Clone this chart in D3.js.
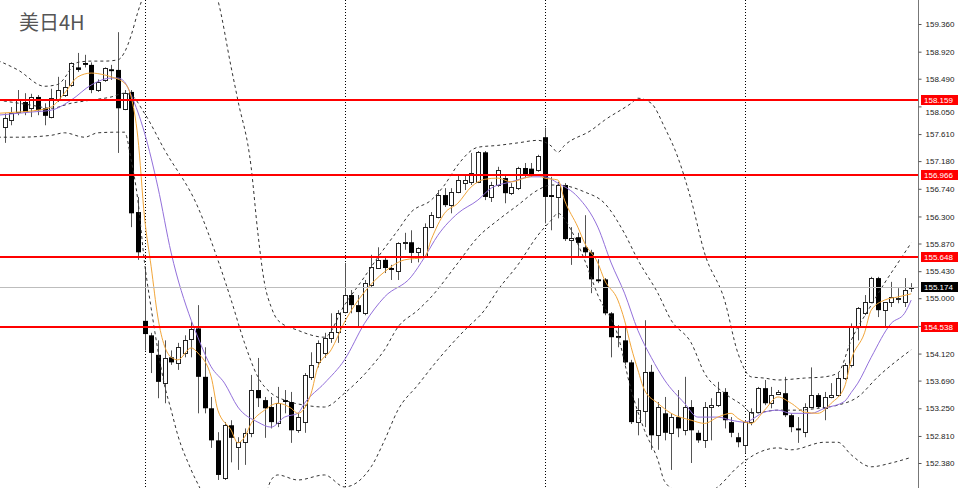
<!DOCTYPE html>
<html><head><meta charset="utf-8">
<script src="https://cdn.jsdelivr.net/npm/d3@7"></script>
<style>html,body{margin:0;padding:0;background:#fff;}svg{display:block}</style>
</head><body>
<svg id="c" width="960" height="488"></svg>
<script>
const title = "美日4H";
const opens = [157.72,157.83,157.96,158.12,158.02,158.20,158.02,157.88,158.15,158.23,158.39,158.67,158.74,158.71,158.31,158.47,158.64,158.63,158.01,158.28,156.37,154.64,154.41,154.10,153.65,154.06,153.97,154.13,154.35,154.52,153.75,153.25,152.74,152.14,152.98,152.63,152.71,152.86,153.54,153.38,153.27,153.01,153.38,153.35,152.90,153.03,153.75,153.98,154.13,154.37,154.45,154.78,155.05,154.89,154.76,155.21,155.49,155.61,155.48,155.43,155.88,155.89,155.73,155.65,156.13,156.29,156.64,156.48,156.69,156.83,156.85,156.85,157.32,156.61,156.80,156.91,156.67,156.75,157.07,157.06,157.04,157.56,156.64,156.61,156.80,155.93,155.97,155.81,155.73,155.30,155.30,154.76,154.40,154.33,153.98,153.03,153.21,153.83,152.82,153.17,152.86,153.11,152.90,153.27,152.86,152.74,153.27,153.30,153.51,153.03,152.79,152.66,153.03,153.19,153.57,153.33,153.48,153.49,153.14,152.93,152.87,153.27,153.46,153.25,153.43,153.46,153.73,153.94,154.54,154.76,154.94,155.32,154.81,154.94,154.99,154.94,155.16];
const highs = [157.94,158.04,158.31,158.26,158.25,158.23,158.10,158.33,158.52,158.47,158.75,158.90,158.87,158.75,158.48,158.67,158.71,159.23,158.31,158.31,156.61,155.49,154.45,154.33,154.33,154.17,154.29,154.41,154.62,154.89,154.22,153.43,152.87,153.03,153.06,152.79,152.93,153.78,154.05,153.43,153.43,153.59,153.54,153.51,153.17,153.81,154.14,154.33,154.45,154.76,154.81,155.56,155.13,155.05,155.29,155.69,155.81,155.64,155.53,155.89,156.04,156.08,155.81,156.19,156.37,156.72,156.75,156.75,156.96,156.96,157.31,157.34,157.34,156.85,157.09,156.96,156.83,157.09,157.15,157.15,157.28,157.71,156.93,156.85,156.83,156.13,156.04,156.32,155.77,155.62,155.32,154.78,154.57,154.54,154.02,153.41,154.65,153.94,153.35,153.43,153.17,153.54,153.75,153.38,152.90,153.35,153.41,153.67,153.57,153.11,152.86,153.06,153.25,153.59,153.70,153.59,153.54,153.75,153.17,153.11,153.33,153.90,153.49,153.51,153.65,153.81,153.97,154.60,154.86,155.05,155.34,155.34,154.94,155.26,155.16,155.32,155.24];
const lows = [157.47,157.75,157.91,157.91,157.88,157.91,157.75,157.86,158.12,158.20,158.36,158.60,158.67,158.26,158.28,158.44,158.47,157.31,157.99,156.13,155.61,154.17,153.81,153.41,153.33,153.94,153.86,154.06,154.06,153.17,153.17,152.62,152.11,152.11,152.39,152.27,152.35,152.79,153.27,152.78,152.93,152.95,153.17,152.70,152.86,152.86,153.70,153.90,154.05,154.29,154.29,154.76,154.76,154.54,154.73,155.18,155.48,155.40,155.29,155.29,155.77,155.56,155.57,155.64,156.12,156.27,156.45,156.35,156.67,156.72,156.80,156.83,156.56,156.53,156.77,156.51,156.64,156.72,156.91,156.93,157.01,156.19,156.08,156.27,155.91,155.53,155.65,155.65,155.08,155.24,154.73,154.06,154.22,153.94,153.00,152.82,152.95,152.59,152.59,152.74,152.27,152.79,152.82,152.38,152.70,152.62,152.74,153.27,152.93,152.79,152.63,152.54,152.98,153.17,153.30,153.25,153.46,153.11,152.87,152.70,152.79,153.25,153.25,153.06,153.41,153.43,153.70,153.90,154.33,154.73,154.92,154.70,154.54,154.86,154.92,154.86,155.10];
const closes = [157.86,157.94,158.15,157.96,158.20,157.99,157.90,158.18,158.31,158.36,158.74,158.63,158.71,158.31,158.44,158.66,158.61,158.02,158.26,156.35,155.73,154.43,154.13,153.67,154.05,153.98,154.22,154.33,154.51,153.75,153.25,152.74,152.19,152.98,152.78,152.71,152.86,153.54,153.41,153.25,153.03,153.33,153.35,152.90,153.11,153.78,153.94,154.29,154.37,154.46,154.76,155.05,154.89,154.78,155.24,155.49,155.61,155.48,155.45,155.88,155.89,155.72,155.80,156.13,156.32,156.64,156.48,156.69,156.88,156.88,156.99,157.32,156.61,156.80,157.04,156.67,156.77,157.07,156.96,156.97,157.26,156.61,156.61,156.80,155.94,155.96,155.88,155.73,155.30,155.27,154.76,154.38,154.37,153.98,153.03,153.22,153.83,152.82,153.27,152.86,153.11,152.93,153.27,152.90,152.74,153.27,153.30,153.51,153.06,152.86,152.71,153.03,153.19,153.57,153.33,153.46,153.51,153.14,152.95,152.90,153.27,153.46,153.27,153.43,153.46,153.73,153.94,154.54,154.84,154.94,155.32,154.81,154.94,155.02,155.01,155.13,155.174];

const levelLines = [158.159, 156.966, 155.648, 154.538];
const lastPrice = 155.174;
const tickValues = [159.36,158.92,158.49,158.05,157.61,157.18,156.74,156.30,155.87,155.43,155.00,154.56,154.12,153.69,153.25,152.81,152.38];
const gridBars = [21, 51, 81, 111];

const maFast = [[-1,157.94],[2,157.96],[5,157.99],[7,158.04],[9,158.26],[11,158.52],[13,158.58],[15,158.55],[16,158.52],[18,158.42],[19,158.20],[20,157.56],[21,156.29],[22,155.50],[23,154.70],[25,154.06],[26,154.02],[28,154.21],[29,154.13],[31,153.75],[32,153.22],[34,152.90],[35,152.70],[36,152.79],[37,153.01],[39,153.22],[41,153.33],[43,153.25],[44,153.17],[46,153.49],[47,153.91],[49,154.18],[51,154.62],[54,155.10],[57,155.42],[60,155.61],[63,155.65],[64,155.93],[66,156.35],[68,156.51],[70,156.77],[72,156.89],[74,156.91],[76,156.85],[78,156.91],[80,156.96],[81,156.91],[83,156.88],[84,156.56],[86,156.13],[87,155.88],[89,155.56],[90,155.29],[92,154.97],[93,154.65],[94,154.22],[95,153.86],[96,153.54],[98,153.33],[100,153.17],[103,153.06],[105,153.01],[107,153.11],[109,153.17],[110,153.09],[112,153.01],[114,153.22],[116,153.43],[118,153.33],[120,153.19],[122,153.17],[124,153.33],[126,153.59],[127,154.02],[129,154.45],[130,154.81],[132,154.97],[134,155.02],[136,155.07]];
const maSlow = [[-1,157.91],[4,157.96],[7,157.99],[10,158.15],[13,158.39],[16,158.50],[17,158.50],[18,158.44],[19,158.23],[21,157.63],[23,156.77],[25,155.72],[28,154.65],[29,154.38],[31,153.91],[33,153.65],[35,153.27],[38,153.03],[40,152.95],[42,153.11],[44,153.17],[45,153.33],[48,153.65],[51,154.02],[54,154.60],[57,155.02],[61,155.34],[63,155.65],[65,156.00],[68,156.35],[71,156.56],[73,156.75],[76,156.85],[79,156.93],[81,156.93],[83,156.83],[86,156.61],[89,156.13],[91,155.56],[93,155.08],[95,154.49],[97,154.06],[99,153.70],[102,153.33],[104,153.11],[107,153.11],[109,153.06],[111,153.03],[114,153.19],[116,153.22],[118,153.17],[121,153.17],[123,153.25],[126,153.36],[127,153.50],[128,153.65],[130,154.06],[133,154.60],[135,154.76],[136,154.97]];
const bbUpper = [[-1,158.78],[2,158.63],[6,158.37],[8,158.40],[9,158.50],[10,158.66],[11,158.75],[13,158.77],[15,158.77],[17,158.79],[18,158.91],[19,159.18],[20,159.55],[21,159.87],[22,160.30],[25,161.01],[28,160.85],[30,160.38],[31,160.06],[32,159.74],[34,158.67],[35,158.15],[37,157.08],[38,156.04],[39,155.24],[40,154.86],[41,154.65],[44,154.49],[48,154.38],[51,154.89],[54,155.34],[56,155.65],[59,156.08],[61,156.37],[64,156.56],[66,156.80],[68,157.12],[71,157.40],[74,157.43],[77,157.47],[80,157.51],[82,157.42],[83,157.32],[84,157.43],[88,157.67],[90,157.83],[94,158.10],[95,158.18],[97,158.10],[99,157.72],[101,157.24],[103,156.56],[105,155.72],[108,154.97],[110,154.13],[112,153.75],[114,153.73],[116,153.70],[120,153.73],[123,153.75],[125,153.81],[127,154.33],[130,154.89],[132,155.24],[134,155.56],[136,155.88]];
const bbMiddle = [[-1,158.15],[4,158.07],[7,158.02],[10,158.10],[13,158.15],[16,158.20],[18,158.26],[19,158.23],[21,157.94],[24,157.36],[29,156.45],[32,155.61],[34,154.97],[36,154.29],[38,153.75],[40,153.49],[42,153.38],[45,153.30],[48,153.27],[51,153.49],[55,153.91],[57,154.18],[59,154.54],[62,154.81],[64,155.02],[68,155.56],[71,155.97],[74,156.24],[77,156.48],[80,156.72],[82,156.80],[83,156.80],[87,156.69],[90,156.51],[93,156.03],[95,155.61],[98,155.08],[100,154.65],[103,154.29],[105,153.81],[108,153.49],[111,153.27],[112,153.17],[116,153.22],[119,153.22],[122,153.25],[125,153.30],[128,153.43],[131,153.75],[136,154.18]];
const bbLower = [[-1,157.56],[2,157.56],[7,157.59],[9,157.63],[12,157.56],[14,157.63],[17,157.64],[18,157.64],[19,157.20],[20,156.56],[21,155.57],[22,154.84],[23,154.18],[24,153.62],[25,153.22],[26,152.82],[28,152.27],[30,151.79],[31,151.41],[34,150.84],[37,150.95],[38,151.36],[39,151.79],[40,152.11],[41,152.19],[44,152.11],[48,152.19],[51,152.00],[55,152.32],[57,152.74],[59,153.22],[62,153.62],[65,154.02],[69,154.49],[72,154.81],[74,155.13],[77,155.53],[80,156.00],[82,156.24],[83,156.35],[85,156.08],[87,155.61],[89,155.05],[92,154.41],[94,153.54],[96,152.90],[98,152.43],[99,152.09],[101,151.92],[103,151.84],[105,151.87],[107,152.00],[110,152.32],[113,152.54],[116,152.62],[118,152.59],[123,152.71],[125,152.71],[127,152.51],[130,152.32],[133,152.38],[136,152.47]];

const W = 960, H = 488, plotRight = 918;
const svg = d3.select("#c");
const x = d3.scaleLinear().domain([0, opens.length - 1]).range([4.5, 911.2]);
const y = d3.scaleLinear().domain([152.38, 159.36]).range([463, 24]);
const labelFont = "'Liberation Sans', Arial, sans-serif";

svg.append("defs").append("clipPath").attr("id", "clip")
  .append("rect").attr("x", 0).attr("y", 0).attr("width", plotRight).attr("height", H);
const plot = svg.append("g").attr("clip-path", "url(#clip)");

// vertical grid
plot.append("g").selectAll("line").data(gridBars).join("line")
  .attr("x1", d => Math.round(x(d)) + 0.5).attr("x2", d => Math.round(x(d)) + 0.5)
  .attr("y1", 0).attr("y2", H)
  .attr("stroke", "#000").attr("stroke-width", 1).attr("stroke-dasharray", "1,2");

// candles
const idx = d3.range(opens.length);
const cx = i => Math.round(x(i)) + 0.5;
const cg = plot.append("g");
cg.selectAll("line").data(idx).join("line")
  .attr("x1", cx).attr("x2", cx)
  .attr("y1", i => y(highs[i])).attr("y2", i => y(lows[i]))
  .attr("stroke", "#555").attr("stroke-width", 1);
cg.selectAll("rect").data(idx).join("rect")
  .each(function(i) {
    const up = closes[i] >= opens[i];
    const top = y(Math.max(opens[i], closes[i]));
    const bot = y(Math.min(opens[i], closes[i]));
    const h = Math.max(1, bot - top);
    const s = d3.select(this);
    if (up) {
      s.attr("x", Math.round(x(i)) - 1.5).attr("width", 4)
       .attr("y", Math.round(top) + 0.5).attr("height", Math.max(1, Math.round(h)))
       .attr("fill", "#fff").attr("stroke", "#222").attr("stroke-width", 1);
    } else {
      s.attr("x", Math.round(x(i)) - 2).attr("width", 5)
       .attr("y", top).attr("height", Math.max(1.5, h))
       .attr("fill", "#000");
    }
  });

// indicator lines
const line = d3.line().x(d => x(d[0])).y(d => y(d[1])).curve(d3.curveMonotoneX);
[bbUpper, bbMiddle, bbLower].forEach(s => {
  plot.append("path").datum(s).attr("d", line).attr("fill", "none")
    .attr("stroke", "#333").attr("stroke-width", 1).attr("stroke-dasharray", "3,3");
});
plot.append("path").datum(maSlow).attr("d", line).attr("fill", "none")
  .attr("stroke", "#9370DB").attr("stroke-width", 1);
plot.append("path").datum(maFast).attr("d", line).attr("fill", "none")
  .attr("stroke", "#F2A63A").attr("stroke-width", 1);

// last price line
plot.append("line").attr("x1", 0).attr("x2", plotRight)
  .attr("y1", Math.round(y(lastPrice)) + 0.5).attr("y2", Math.round(y(lastPrice)) + 0.5)
  .attr("stroke", "#bdbdbd").attr("stroke-width", 1);

// level lines
plot.append("g").selectAll("line").data(levelLines).join("line")
  .attr("x1", 0).attr("x2", plotRight)
  .attr("y1", d => Math.round(y(d))).attr("y2", d => Math.round(y(d)))
  .attr("stroke", "#ff0000").attr("stroke-width", 2);

// right axis
svg.append("line").attr("x1", plotRight + 0.5).attr("x2", plotRight + 0.5)
  .attr("y1", 0).attr("y2", H).attr("stroke", "#777").attr("stroke-width", 1);
const axis = d3.axisRight(y).tickValues(tickValues).tickSize(3).tickPadding(4)
  .tickFormat(d3.format(".3f"));
const ag = svg.append("g").attr("transform", `translate(${plotRight + 0.5},0)`).call(axis);
ag.select(".domain").remove();
ag.selectAll(".tick line").attr("stroke", "#555");
ag.selectAll(".tick text").attr("fill", "#222")
  .style("font-family", labelFont).style("font-size", "8px");
// keep tick labels clear of the level tags that sit just above/below them
ag.selectAll(".tick text").each(function(d) {
  const ty = y(d);
  levelLines.forEach(l => {
    const ly = y(l);
    if (Math.abs(ty - ly) < 12 && Math.abs(ty - ly) > 2) {
      d3.select(this).attr("dy", (ty > ly ? "0.32em" : "0.32em"))
        .attr("y", ty > ly ? (ly + 12.5 - ty) : (ly - 12.5 - ty));
    }
  });
});

// level labels
const fmt = d3.format(".3f");
const lab = svg.append("g").selectAll("g").data(levelLines).join("g")
  .attr("transform", d => `translate(921,${Math.round(y(d))})`);
lab.append("rect").attr("x", 0).attr("y", -5).attr("width", 37).attr("height", 10).attr("fill", "#ff0000");
lab.append("text").attr("x", 3).attr("y", 3).text(d => fmt(d)).attr("fill", "#fff")
  .style("font-family", labelFont).style("font-size", "8px");

const lp = svg.append("g").attr("transform", `translate(921,${Math.round(y(lastPrice))})`);
lp.append("rect").attr("x", 0).attr("y", -5).attr("width", 37).attr("height", 10).attr("fill", "#000");
lp.append("text").attr("x", 3).attr("y", 3).text(fmt(lastPrice)).attr("fill", "#fff")
  .style("font-family", labelFont).style("font-size", "8px");

// title
svg.append("text").attr("x", 19).attr("y", 30).text(title)
  .attr("fill", "#555").style("font-family", "'Noto Sans CJK SC', 'Noto Sans', sans-serif")
  .style("font-size", "20px");
</script>
</body></html>
